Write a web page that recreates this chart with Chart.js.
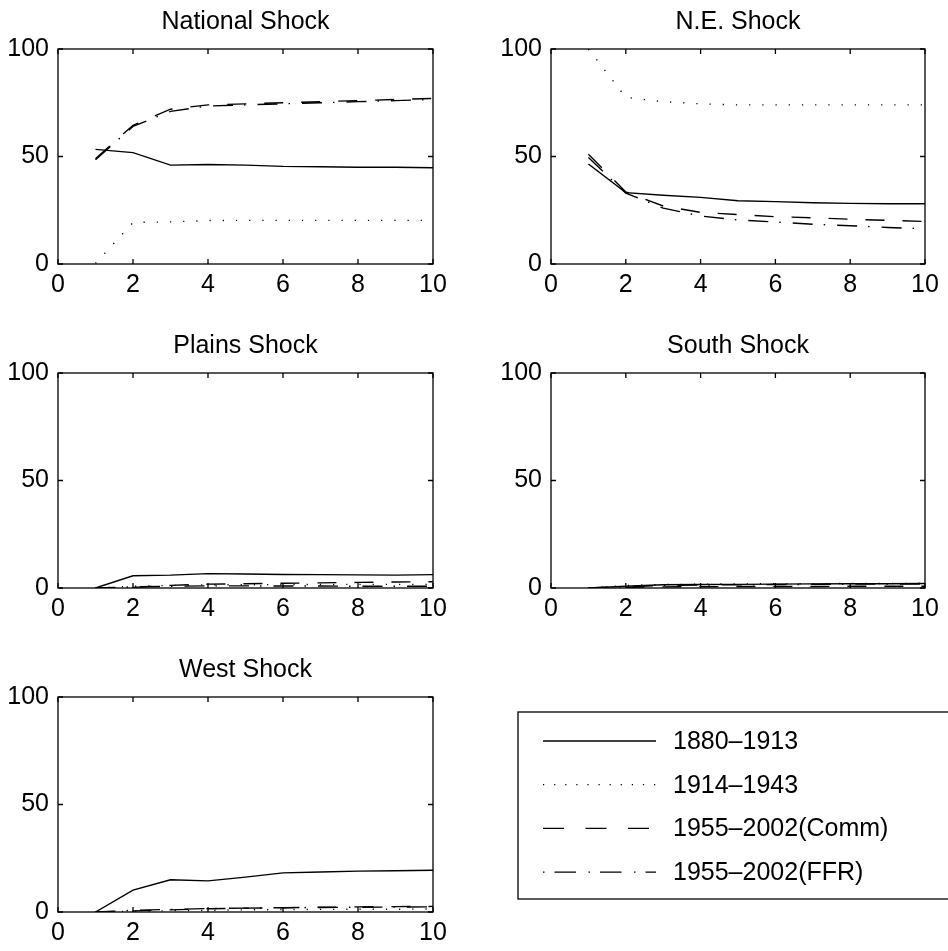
<!DOCTYPE html>
<html>
<head>
<meta charset="utf-8">
<script src="https://cdn.jsdelivr.net/npm/chart.js@4.4.0/dist/chart.umd.min.js"></script>
<style>
  html, body { margin: 0; padding: 0; background: #fff; overflow: hidden; }
  #wrap { position: relative; width: 948px; height: 951px; }
  canvas { position: absolute; }
</style>
</head>
<body>
<div id="wrap">
  <canvas id="c0" width="474" height="324" style="left:0;top:0"></canvas>
  <canvas id="c1" width="474" height="324" style="left:474px;top:0"></canvas>
  <canvas id="c2" width="474" height="324" style="left:0;top:324px"></canvas>
  <canvas id="c3" width="474" height="324" style="left:474px;top:324px"></canvas>
  <canvas id="c4" width="948" height="303" style="left:0;top:648px"></canvas>
</div>
<script>
// horizons and labels
const horizons = [1, 2, 3, 4, 5, 6, 7, 8, 9, 10];
const xTicks = [0, 2, 4, 6, 8, 10];
const yTicks = [0, 50, 100];
const periods = ['1880\u20131913', '1914\u20131943', '1955\u20132002(Comm)', '1955\u20132002(FFR)'];
const titles = ['National Shock', 'N.E. Shock', 'Plains Shock', 'South Shock', 'West Shock'];

// National shock
const natEarly = [53.3, 51.8, 46.0, 46.3, 46.0, 45.4, 45.2, 45.0, 45.0, 44.8];
const natInter = [0.3, 19.3, 19.6, 20.2, 20.3, 20.3, 20.3, 20.3, 20.3, 20.3];
const natComm  = [49.0, 64.5, 72.0, 74.0, 74.5, 75.0, 75.5, 76.0, 76.5, 77.0];
const natFFR   = [48.5, 64.0, 71.0, 73.5, 74.0, 74.5, 75.0, 75.5, 76.0, 76.5];
// N.E. shock
const neEarly = [46.5, 33.2, 32.0, 31.0, 29.4, 29.0, 28.5, 28.2, 28.0, 28.0];
const neInter = [100, 77.5, 75.5, 74.5, 74.0, 74.0, 74.0, 74.0, 74.0, 74.0];
const neComm  = [51.0, 33.5, 27.0, 24.0, 23.0, 22.0, 21.5, 20.8, 20.3, 19.8];
const neFFR   = [49.5, 33.0, 26.0, 22.3, 20.5, 19.5, 18.5, 17.8, 17.0, 16.4];
// Plains shock
const plEarly = [0, 5.7, 6.0, 6.7, 6.5, 6.3, 6.2, 6.1, 6.0, 6.2];
const plInter = [0, 0.8, 1.2, 1.5, 1.5, 1.6, 1.6, 1.7, 1.7, 1.7];
const plComm  = [0, 0.3, 1.2, 1.8, 2.0, 2.2, 2.4, 2.6, 2.8, 2.9];
const plFFR   = [0, 0.5, 0.8, 1.0, 1.0, 0.9, 0.9, 0.8, 0.8, 0.8];
// South shock
const soEarly = [0, 0.8, 1.5, 1.6, 1.7, 1.8, 1.9, 2.0, 2.0, 2.1];
const soInter = [0, 1.2, 1.6, 1.8, 1.9, 2.0, 2.0, 2.1, 2.1, 2.2];
const soComm  = [0, 0.3, 0.5, 0.6, 0.7, 0.7, 0.7, 0.8, 0.8, 0.8];
const soFFR   = [0, 0.6, 1.2, 1.4, 1.5, 1.6, 1.7, 1.8, 1.8, 1.9];
// West shock
const weEarly = [0, 10.2, 15.0, 14.5, 16.2, 18.2, 18.6, 19.0, 19.2, 19.4];
const weInter = [0, 0.3, 0.6, 0.8, 1.0, 1.1, 1.2, 1.3, 1.3, 1.4];
const weComm  = [0, 0.5, 1.0, 1.5, 1.8, 2.0, 2.2, 2.4, 2.5, 2.6];
const weFFR   = [0, 0.8, 1.2, 1.6, 1.8, 2.0, 2.1, 2.2, 2.3, 2.4];

const panels = [
  [natEarly, natInter, natComm, natFFR],
  [neEarly, neInter, neComm, neFFR],
  [plEarly, plInter, plComm, plFFR],
  [soEarly, soInter, soComm, soFFR],
  [weEarly, weInter, weComm, weFFR]
];

const FONT = '"Liberation Sans", Arial, Helvetica, sans-serif';
const dashes = [[], [1.2, 12], [19, 18], [20, 11, 1.5, 12]];
// the legend samples are drawn a bit differently from the plot lines
const legendDashes = [[], [1.2, 9.9], [21, 21.5], [1.5, 10, 21.5, 12.5]];

// box round the axes with inward ticks, like matlab
const boxTicks = {
  id: 'boxTicks',
  afterDraw(chart) {
    const { ctx, chartArea: a, scales } = chart;
    ctx.save();
    ctx.strokeStyle = '#000';
    ctx.lineWidth = 1.3;
    ctx.strokeRect(a.left, a.top, a.right - a.left, a.bottom - a.top);
    ctx.beginPath();
    xTicks.forEach(v => {
      const px = scales.x.getPixelForValue(v);
      ctx.moveTo(px, a.bottom); ctx.lineTo(px, a.bottom - 5);
      ctx.moveTo(px, a.top); ctx.lineTo(px, a.top + 5);
    });
    yTicks.forEach(v => {
      const py = scales.y.getPixelForValue(v);
      ctx.moveTo(a.left, py); ctx.lineTo(a.left + 5, py);
      ctx.moveTo(a.right, py); ctx.lineTo(a.right - 5, py);
    });
    ctx.stroke();
    ctx.restore();
  }
};

// legend box at the bottom right
const legendBox = {
  id: 'legendBox',
  afterDraw(chart) {
    const ctx = chart.ctx;
    ctx.save();
    ctx.strokeStyle = '#000';
    ctx.lineWidth = 1.3;
    ctx.strokeRect(518, 64, 440, 187);
    ctx.font = '25px ' + FONT;
    ctx.fillStyle = '#000';
    ctx.textBaseline = 'middle';
    chart.data.datasets.forEach((ds, i) => {
      const y = 93 + i * 43.7;
      ctx.beginPath();
      ctx.lineWidth = 1.3;
      ctx.setLineDash(legendDashes[i]);
      ctx.moveTo(543, y); ctx.lineTo(656, y);
      ctx.stroke();
      ctx.setLineDash([]);
      ctx.fillText(ds.label, 673, y + 1);
    });
    ctx.restore();
  }
};

panels.forEach((series, p) => {
  const canvas = document.getElementById('c' + p);
  const right = p % 2 === 1;
  const yWidth = right ? 77 : 58;
  const xHeight = canvas.height - 264;
  const padRight = canvas.width - (right ? 451 : 433);

  new Chart(canvas, {
    type: 'line',
    data: {
      datasets: series.map((vals, i) => ({
        label: periods[i],
        data: horizons.map((h, k) => ({ x: h, y: vals[k] })),
        borderColor: '#000',
        borderWidth: 1.4,
        borderDash: dashes[i],
        pointRadius: 0,
        tension: 0,
        fill: false
      }))
    },
    options: {
      responsive: false,
      animation: false,
      layout: { padding: { left: 0, right: padRight, top: 0, bottom: 0 } },
      plugins: {
        legend: { display: false },
        tooltip: { enabled: false },
        title: {
          display: true,
          text: titles[p],
          fullSize: false,
          color: '#000',
          font: { family: FONT, size: 25, weight: 'normal' },
          padding: { top: 7, bottom: 12 }
        }
      },
      scales: {
        x: {
          type: 'linear',
          min: 0, max: 10,
          afterBuildTicks: s => { s.ticks = xTicks.map(v => ({ value: v })); },
          afterFit: s => { s.height = xHeight; },
          grid: { display: false, drawTicks: false },
          border: { display: false },
          ticks: { color: '#000', padding: 6, maxRotation: 0, font: { family: FONT, size: 25 } }
        },
        y: {
          min: 0, max: 100,
          afterBuildTicks: s => { s.ticks = yTicks.map(v => ({ value: v })); },
          afterFit: s => { s.width = yWidth; },
          grid: { display: false, drawTicks: false },
          border: { display: false },
          ticks: { color: '#000', padding: 9, font: { family: FONT, size: 25 } }
        }
      }
    },
    plugins: p === 4 ? [boxTicks, legendBox] : [boxTicks]
  });
});
</script>
</body>
</html>
